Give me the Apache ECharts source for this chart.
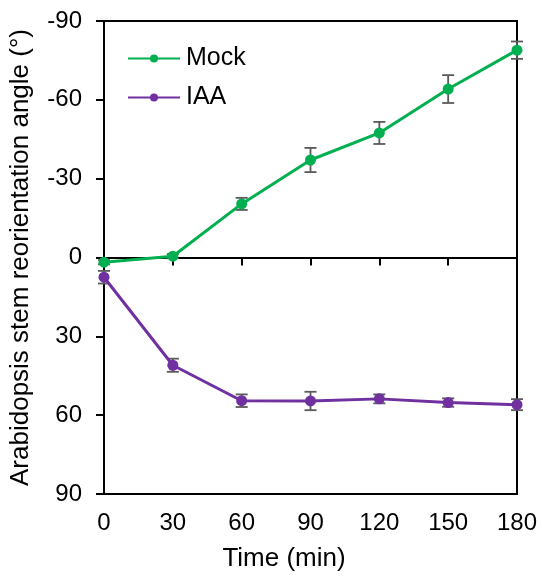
<!DOCTYPE html>
<html>
<head>
<meta charset="utf-8">
<script src="https://cdn.jsdelivr.net/npm/echarts@6/dist/echarts.min.js"></script>
<style>html,body{margin:0;padding:0;background:#fff}#c{width:542px;height:581px}</style>
</head>
<body>
<div id="c"></div>
<script>
const times = [0, 30, 60, 90, 120, 150, 180];
const mockMean = [1.8, -0.5, -20.4, -37.1, -47.4, -64.1, -78.9];
const mockErr = [0.8, 0.8, 2.3, 4.6, 4.2, 5.3, 3.3];
const iaaMean = [7.5, 41.0, 54.5, 54.6, 53.8, 55.2, 56.0];
const iaaErr = [2.4, 2.5, 2.4, 3.5, 1.7, 1.6, 2.1];
const yTicks = [-90, -60, -30, 0, 30, 60, 90];

const FONT = 'Liberation Sans, Arial, sans-serif';
const GREEN = '#00B050';
const PURPLE = '#7030A0';
const ERR = '#5a5a5a';

function pairs(m) { return times.map((t, i) => [t, m[i]]); }
function errData(m, e) { return times.map((t, i) => [t, m[i] - e[i], m[i] + e[i]]); }

function errRender(params, api) {
  const x = api.value(0);
  const p1 = api.coord([x, api.value(1)]);
  const p2 = api.coord([x, api.value(2)]);
  const hw = 6;
  const style = { stroke: ERR, lineWidth: 1.8 };
  return {
    type: 'group',
    children: [
      { type: 'line', shape: { x1: p1[0], y1: p1[1], x2: p2[0], y2: p2[1] }, style },
      { type: 'line', shape: { x1: p1[0] - hw, y1: p1[1], x2: p1[0] + hw, y2: p1[1] }, style },
      { type: 'line', shape: { x1: p2[0] - hw, y1: p2[1], x2: p2[0] + hw, y2: p2[1] }, style }
    ]
  };
}

const chart = echarts.init(document.getElementById('c'));
chart.setOption({
  animation: false,
  textStyle: { fontFamily: FONT },
  grid: { left: 103, right: 25, top: 21, bottom: 87, show: true, borderColor: '#000', borderWidth: 2, backgroundColor: 'transparent' },
  legend: {
    orient: 'vertical', left: 127, top: 46, padding: 0, itemWidth: 52, itemHeight: 10, itemGap: 14,
    textStyle: { fontFamily: FONT, fontSize: 25, color: '#000', padding: [0, 0, 0, 1] },
    data: ['Mock', 'IAA']
  },
  xAxis: [
    {
      type: 'value', min: 0, max: 180, interval: 30,
      axisLine: { show: true, onZero: true, lineStyle: { color: '#000', width: 2 } },
      axisTick: { show: true, length: 8, lineStyle: { color: '#000', width: 2 } },
      axisLabel: { show: false }, splitLine: { show: false }
    },
    {
      type: 'value', min: 0, max: 180, interval: 30, position: 'bottom',
      axisLine: { show: false, onZero: false }, axisTick: { show: false },
      axisLabel: { show: true, fontSize: 24, color: '#000', fontFamily: FONT, margin: 17 },
      splitLine: { show: false },
      name: 'Time (min)', nameLocation: 'middle', nameGap: 52,
      nameTextStyle: { fontSize: 26, color: '#000', fontFamily: FONT, padding: [0, 53, 0, 0] }
    }
  ],
  yAxis: {
    type: 'value', min: -90, max: 90, interval: 30, inverse: true,
    axisLine: { show: true, onZero: false, lineStyle: { color: '#000', width: 2 } },
    axisTick: { show: true, length: 8, lineStyle: { color: '#000', width: 2 } },
    axisLabel: { fontSize: 24, color: '#000', fontFamily: FONT, margin: 22,
      customValues: yTicks },
    splitLine: { show: false },
    name: 'Arabidopsis stem reorientation angle (°)', nameLocation: 'middle', nameGap: 70,
    nameTextStyle: { fontSize: 26, color: '#000', fontFamily: FONT }
  },
  series: [
    { type: 'custom', xAxisIndex: 0, renderItem: errRender, data: errData(mockMean, mockErr), z: 1, encode: { x: 0, y: [1, 2] } },
    { type: 'custom', xAxisIndex: 0, renderItem: errRender, data: errData(iaaMean, iaaErr), z: 1, encode: { x: 0, y: [1, 2] } },
    { name: 'Mock', type: 'line', xAxisIndex: 0, data: pairs(mockMean), symbol: 'circle', symbolSize: 11,
      itemStyle: { color: GREEN }, lineStyle: { color: GREEN, width: 3 }, z: 3 },
    { name: 'IAA', type: 'line', xAxisIndex: 0, data: pairs(iaaMean), symbol: 'circle', symbolSize: 11,
      itemStyle: { color: PURPLE }, lineStyle: { color: PURPLE, width: 3 }, z: 3 }
  ]
});
</script>
</body>
</html>
